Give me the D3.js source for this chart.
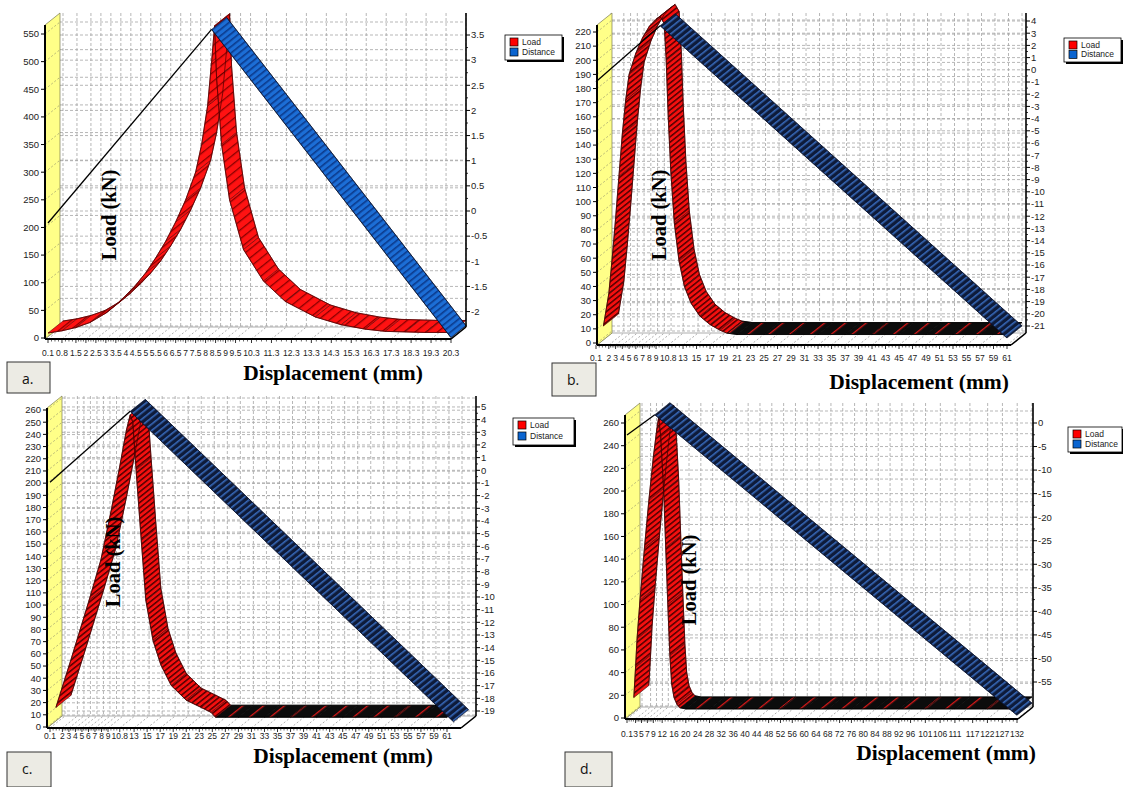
<!DOCTYPE html>
<html><head><meta charset="utf-8">
<script src="https://cdn.jsdelivr.net/npm/d3@7"></script>
<style>body{margin:0;background:#fff}svg{display:block}</style>
</head><body>
<svg id="chart" width="1123" height="787"></svg>
<script>
// ---------------- data ----------------
const seriesNames = ["Load", "Distance"];
const panelLetters = ["a.", "b.", "c.", "d."];
const yTitle = "Load (kN)";
const xTitle = "Displacement (mm)";

const xTicksA = [0.1,0.8,1.5,2,2.5,3,3.5,4,4.5,5,5.5,6,6.5,7,7.5,8,8.5,9,9.5,10.3,11.3,12.3,13.3,14.3,15.3,16.3,17.3,18.3,19.3,20.3];
const xTicksB = [0.1,2,3,4,5,6,7,8,9,10.8,13,15,17,19,21,23,25,27,29,31,33,35,37,39,41,43,45,47,49,51,53,55,57,59,61];
const xTicksC = [0.1,2,3,4,5,6,7,8,9,10.8,13,15,17,19,21,23,25,27,29,31,33,35,37,39,41,43,45,47,49,51,53,55,57,59,61];
const xTicksD = [0.1,3,5,7,9,12,16,20,24,28,32,36,40,44,48,52,56,60,64,68,72,76,80,84,88,92,96,101,106,111,117,122,127,132];

const leftTicksA = [0,50,100,150,200,250,300,350,400,450,500,550];
const leftTicksB = [0,10,20,30,40,50,60,70,80,90,100,110,120,130,140,150,160,170,180,190,200,210,220];
const leftTicksC = [0,10,20,30,40,50,60,70,80,90,100,110,120,130,140,150,160,170,180,190,200,210,220,230,240,250,260];
const leftTicksD = [0,20,40,60,80,100,120,140,160,180,200,220,240,260];

const rightTicksA = [-2,-1.5,-1,-0.5,0,0.5,1,1.5,2,2.5,3,3.5];
const rightTicksB = [-21,-20,-19,-18,-17,-16,-15,-14,-13,-12,-11,-10,-9,-8,-7,-6,-5,-4,-3,-2,-1,0,1,2,3,4];
const rightTicksC = [-19,-18,-17,-16,-15,-14,-13,-12,-11,-10,-9,-8,-7,-6,-5,-4,-3,-2,-1,0,1,2,3,4,5];
const rightTicksD = [-55,-50,-45,-40,-35,-30,-25,-20,-15,-10,-5,0];

// Load series [displacement mm, load kN]
const loadA = [[0.1,9],[0.8,13],[1.5,19],[2.2,28],[3,45],[3.5,60],[4,77],[4.5,96],[5,118],[5.5,145],[6,175],[6.5,210],[7,250],[7.5,300],[7.8,350],[8.1,420],[8.3,500],[8.45,565],[8.55,470],[8.8,350],[9.2,250],[9.9,160],[10.9,103],[12,66],[13.5,38],[14.8,24],[16,16],[17,12],[18,11],[19,10],[20.3,10]];
const loadB = [[1.2,12],[2,35],[2.5,60],[3,88],[3.5,118],[4,148],[4.5,172],[5,190],[6,205],[7,216],[8,224],[9,229],[9.6,231],[10.2,226],[10.5,200],[10.8,160],[11.2,120],[11.7,85],[12.4,58],[13.2,40],[14.2,28],[15.5,19],[17,13],[18.5,9],[19.5,7],[21,6],[25,6],[29,6],[33,6],[37,6],[41,6],[45,6],[49,6],[53,6],[57,6],[61,6]];
const loadC = [[1,16],[3.3,55],[6.1,104],[7.9,137],[9.5,178],[10.7,211],[11.8,243],[12.4,256],[12.8,250],[13.3,211],[14.1,153],[14.8,104],[15.9,71],[17.1,51],[18.7,34],[21,22],[23.3,16],[24.8,12],[25.5,8],[29,8],[33,8],[37,8],[41,8],[45,8],[49,8],[53,8],[57,8],[61,8]];
const loadD = [[2.4,18],[3,45],[3.5,70],[4.5,104],[6,150],[7.5,192],[9,230],[10.2,255],[10.8,265],[11.5,248],[12.5,200],[13.2,150],[13.9,100],[14.6,55],[15.2,30],[16,18],[17,12],[18,9],[20,8],[28,8],[36,8],[44,8],[52,8],[60,8],[68,8],[76,8],[84,8],[92,8],[101,8],[111,8],[122,8],[132,8]];

// Distance series [displacement mm, distance]
const distA = [[0.1,0],[8.3,3.85],[20.3,-2.28]];
const distB = [[0.1,0],[9.6,4.6],[61,-21.0]];
const distC = [[0.1,0],[12.4,5.6],[62,-18.9]];
const distD = [[0.1,0],[9.5,4.3],[132,-59.5]];

// ---------------- drawing ----------------
const DX = 15, DY = -12;
const svg = d3.select("#chart");
const defs = svg.append("defs");
function stripes(id, base, stripe, spacing, sw){
  const p = defs.append("pattern").attr("id", id).attr("patternUnits","userSpaceOnUse")
    .attr("width", spacing).attr("height", 20).attr("patternTransform","rotate(51.3)");
  p.append("rect").attr("width", spacing).attr("height", 20).attr("fill", base);
  p.append("rect").attr("width", sw).attr("height", 20).attr("fill", stripe);
}
stripes("redA", "#ff1212", "#8a0000", 7, 1.3);
stripes("red", "#f41010", "#500000", 4.2, 1.5);
stripes("tail", "#0c0c0c", "#d81818", 13, 1.3);
stripes("blueA", "#1c6ed6", "#0b3a8c", 5, 1.6);
stripes("navy", "#0e1b3a", "#3768b8", 5, 1.6);

const fontSans = "'Liberation Sans', Arial, sans-serif";
const fontSerif = "'Liberation Serif', 'Times New Roman', serif";

const panels = [
  {L:45, R:451, T:25, B:339, xd:[0.1,20.3], xr:[48,451], yld:[0,550], ylr:[338,34], yrd:[0,3.5], yrr:[211,35],
   xTicks:xTicksA, lTicks:leftTicksA, rTicks:rightTicksA, load:loadA, dist:distA, tailFrom:null,
   loadFill:"redA", distFill:"blueA", lblOff:14, legend:[505,35,57,25], box:[7,362,43,31], letter:panelLetters[0],
   yT:[109,215], xT:[333,372]},
  {L:597, R:1011, T:25, B:345, xd:[0.1,61], xr:[596,1007], yld:[0,220], ylr:[343,32], yrd:[0,-21], yrr:[69.8,326],
   xTicks:xTicksB, lTicks:leftTicksB, rTicks:rightTicksB, load:loadB, dist:distB, tailFrom:19.5,
   loadFill:"red", distFill:"navy", lblOff:13, legend:[1064,38,57,24], box:[552,363,44,33], letter:panelLetters[1],
   yT:[659,215], xT:[919,381]},
  {L:47, R:461, T:408, B:728, xd:[0.1,61], xr:[50,447], yld:[0,260], ylr:[727,410], yrd:[0,-19], yrr:[470.3,711],
   xTicks:xTicksC, lTicks:leftTicksC, rTicks:rightTicksC, load:loadC, dist:distC, tailFrom:25.5,
   loadFill:"red", distFill:"navy", lblOff:8, legend:[513,418,61,27], box:[7,752,44,35], letter:panelLetters[2],
   yT:[113,562], xT:[343,755]},
  {L:625, R:1018, T:415, B:719, xd:[0.1,132], xr:[627,1017], yld:[0,260], ylr:[718,423], yrd:[0,-55], yrr:[423,682],
   xTicks:xTicksD, lTicks:leftTicksD, rTicks:rightTicksD, load:loadD, dist:distD, tailFrom:18,
   loadFill:"red", distFill:"navy", lblOff:15, legend:[1068,427,54,25], box:[565,752,47,35], letter:panelLetters[3],
   yT:[689,580], xT:[946,752]}
];

// 3D ribbon drawn as one quad per segment (front edge = data, back edge = depth offset)
function ribbon(g, pts, fill, edge){
  const rg = g.append("g");
  for (let i = 0; i < pts.length - 1; i++) {
    const a = pts[i], b = pts[i+1];
    const d = `M${a[0]},${a[1]}L${b[0]},${b[1]}L${b[0]+DX},${b[1]+DY}L${a[0]+DX},${a[1]+DY}Z`;
    rg.append("path").attr("d", d).attr("fill", `url(#${fill})`).attr("stroke", edge).attr("stroke-width", 0.6).attr("stroke-linejoin", "round");
  }
  rg.append("path").attr("d", d3.line()(pts)).attr("fill", "none").attr("stroke", edge).attr("stroke-width", 0.8);
  rg.append("path").attr("d", d3.line()(pts.map(p => [p[0]+DX, p[1]+DY]))).attr("fill", "none").attr("stroke", edge).attr("stroke-width", 0.8);
}

panels.forEach(P => {
  const g = svg.append("g");
  const {L, R, T, B} = P;
  const x = d3.scaleLinear().domain(P.xd).range(P.xr);
  const yl = d3.scaleLinear().domain(P.yld).range(P.ylr);
  const yr = d3.scaleLinear().domain(P.yrd).range(P.yrr);

  // back wall
  g.append("rect").attr("x", L+DX).attr("y", T+DY).attr("width", R-L).attr("height", B-T).attr("fill", "#fff");
  const grid = g.append("g").attr("stroke", "#a4a4a4").attr("stroke-width", 0.8).attr("stroke-dasharray", "3,2");
  P.lTicks.forEach(t => grid.append("line").attr("x1", L+DX).attr("x2", R+DX).attr("y1", yl(t)+DY).attr("y2", yl(t)+DY));
  P.rTicks.forEach(t => grid.append("line").attr("x1", L+DX).attr("x2", R+DX).attr("y1", yr(t)).attr("y2", yr(t)));
  P.xTicks.forEach(t => grid.append("line").attr("x1", x(t)+DX).attr("x2", x(t)+DX).attr("y1", T+DY).attr("y2", B+DY));

  // floor
  g.append("path").attr("d", `M${L},${B}L${R},${B}L${R+DX},${B+DY}L${L+DX},${B+DY}Z`).attr("fill", "#fff")
    .attr("stroke", "#8a8a8a").attr("stroke-width", 0.7);
  const fl = g.append("g").attr("stroke", "#9a9a9a").attr("stroke-width", 0.8).attr("stroke-dasharray", "2,2");
  P.xTicks.forEach(t => fl.append("line").attr("x1", x(t)).attr("y1", B).attr("x2", x(t)+DX).attr("y2", B+DY));

  // left wall
  g.append("path").attr("d", `M${L},${B}L${L},${T}L${L+DX},${T+DY}L${L+DX},${B+DY}Z`)
    .attr("fill", "#ffff88").attr("stroke", "#7a7a50").attr("stroke-width", 0.7);
  const wl = g.append("g").attr("stroke", "#9a9a70").attr("stroke-width", 0.7).attr("stroke-dasharray", "2,2");
  P.lTicks.forEach(t => wl.append("line").attr("x1", L).attr("y1", yl(t)).attr("x2", L+DX).attr("y2", yl(t)+DY));

  // Load series ribbon
  if (P.tailFrom === null) {
    ribbon(g, P.load.map(d => [x(d[0]), yl(d[1])]), P.loadFill, "#600000");
  } else {
    ribbon(g, P.load.filter(d => d[0] >= P.tailFrom).map(d => [x(d[0]), yl(d[1])]), "tail", "#000");
    ribbon(g, P.load.filter(d => d[0] <= P.tailFrom).map(d => [x(d[0]), yl(d[1])]), P.loadFill, "#4a0000");
  }

  // Distance series: rising part as thin line, falling part as ribbon
  const dp = P.dist.map(d => [x(d[0]), yr(d[1]) - DY]);
  g.append("path").attr("d", d3.line()(dp.slice(0,2))).attr("fill", "none").attr("stroke", "#000").attr("stroke-width", 1.3);
  ribbon(g, dp.slice(1), P.distFill, "#0a1430");

  // axes lines
  const ax = g.append("g").attr("stroke", "#000").attr("fill", "none");
  ax.append("line").attr("x1", L).attr("y1", T).attr("x2", L).attr("y2", B).attr("stroke-width", 2);
  ax.append("line").attr("x1", L).attr("y1", B).attr("x2", R).attr("y2", B).attr("stroke-width", 2);
  ax.append("line").attr("x1", R+DX).attr("y1", T+DY).attr("x2", R+DX).attr("y2", B+DY).attr("stroke-width", 1.6);
  ax.append("line").attr("x1", R).attr("y1", B).attr("x2", R+DX).attr("y2", B+DY).attr("stroke-width", 1.6);

  // left ticks + labels
  P.lTicks.forEach(t => {
    ax.append("line").attr("x1", L-4).attr("x2", L).attr("y1", yl(t)).attr("y2", yl(t)).attr("stroke-width", 1);
    g.append("text").attr("x", L-6).attr("y", yl(t)).attr("dy", "0.35em").attr("text-anchor", "end")
      .attr("font-family", fontSans).attr("font-size", 9.5).attr("fill", "#222").text(t);
  });
  // right ticks + labels
  P.rTicks.forEach((t, i) => {
    ax.append("line").attr("x1", R+DX).attr("x2", R+DX+4).attr("y1", yr(t)).attr("y2", yr(t)).attr("stroke-width", 1);
    if (i < P.rTicks.length - 1) {
      const m = yr((t + P.rTicks[i+1]) / 2);
      ax.append("line").attr("x1", R+DX).attr("x2", R+DX+2).attr("y1", m).attr("y2", m).attr("stroke-width", 0.8);
    }
    g.append("text").attr("x", R+DX+5).attr("y", yr(t)).attr("dy", "0.35em").attr("text-anchor", "start")
      .attr("font-family", fontSans).attr("font-size", 9.5).attr("fill", "#222").text(String(t));
  });
  // x ticks + labels
  P.xTicks.forEach((t, i) => {
    ax.append("line").attr("x1", x(t)).attr("x2", x(t)).attr("y1", B).attr("y2", B+4).attr("stroke-width", 0.8);
    if (i < P.xTicks.length - 1) {
      const a = x(t), b = x(P.xTicks[i+1]);
      [0.25,0.5,0.75].forEach(f => ax.append("line").attr("x1", a+(b-a)*f).attr("x2", a+(b-a)*f)
        .attr("y1", B).attr("y2", B+2.5).attr("stroke-width", 0.6));
    }
    g.append("text").attr("x", x(t)).attr("y", B+P.lblOff).attr("dy", "0.35em").attr("text-anchor", "middle")
      .attr("font-family", fontSans).attr("font-size", 8.5).attr("fill", "#222").text(String(t));
  });

  // titles
  g.append("text").attr("transform", `translate(${P.yT[0]},${P.yT[1]}) rotate(-90)`).attr("text-anchor", "middle")
    .attr("dy", "0.35em").attr("font-family", fontSerif).attr("font-weight", "bold").attr("font-size", 20.5).text(yTitle);
  g.append("text").attr("x", P.xT[0]).attr("y", P.xT[1]).attr("dy", "0.35em").attr("text-anchor", "middle")
    .attr("font-family", fontSerif).attr("font-weight", "bold").attr("font-size", 21.5).text(xTitle);

  // legend
  const [lx, ly, lw, lh] = P.legend;
  const lg = g.append("g");
  lg.append("rect").attr("x", lx+2).attr("y", ly+2).attr("width", lw).attr("height", lh).attr("fill", "#000");
  lg.append("rect").attr("x", lx).attr("y", ly).attr("width", lw).attr("height", lh).attr("fill", "#fff").attr("stroke", "#000").attr("stroke-width", 0.8);
  const colors = ["#ff0000", "#0a64d0"];
  seriesNames.forEach((s, i) => {
    const yy = ly + 3 + i * (lh - 5) / 2;
    lg.append("rect").attr("x", lx+5).attr("y", yy).attr("width", 8).attr("height", 8).attr("fill", colors[i]).attr("stroke", "#000").attr("stroke-width", 0.7);
    lg.append("text").attr("x", lx+17).attr("y", yy+4).attr("dy", "0.35em").attr("font-family", fontSans)
      .attr("font-size", 8.5).attr("fill", "#222").text(s);
  });

  // panel letter box
  const [bx, by, bw, bh] = P.box;
  g.append("rect").attr("x", bx).attr("y", by).attr("width", bw).attr("height", bh).attr("fill", "#ecebe4").attr("stroke", "#333").attr("stroke-width", 1);
  g.append("text").attr("x", bx+15).attr("y", by + 17).attr("dy", "0.35em").attr("font-family", "'Open Sans', sans-serif")
    .attr("font-size", 14).attr("fill", "#111").text(P.letter);
});
</script>
</body></html>
